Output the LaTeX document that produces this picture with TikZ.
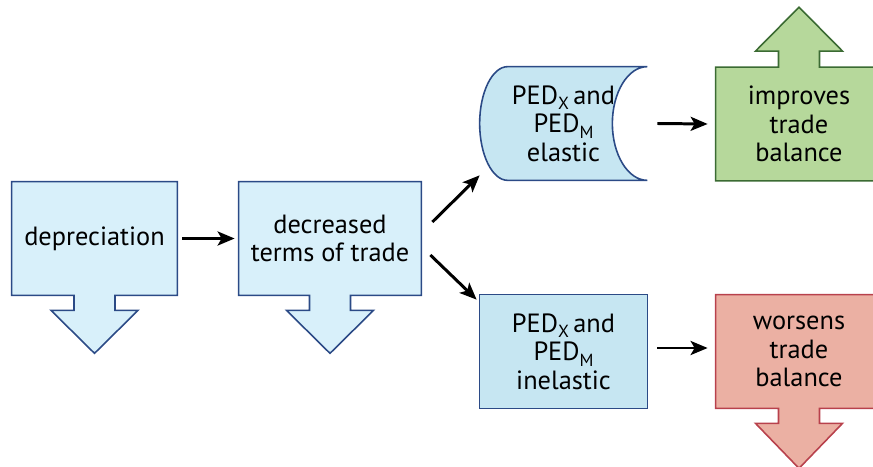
\documentclass[tikz,border=0pt]{standalone}
\usepackage{fontspec}
\setmainfont{PT Sans}
\usepackage{tikz}
\usetikzlibrary{calc, arrows.meta, backgrounds}

\definecolor{paleblue}{HTML}{D8F0FA}
\definecolor{midblue}{HTML}{C6E6F2}
\definecolor{blueline}{HTML}{2B4A86}
\definecolor{leafgreen}{HTML}{B6D89B}
\definecolor{greenline}{HTML}{3B6B33}
\definecolor{salmon}{HTML}{EBB0A3}
\definecolor{redline}{HTML}{B8414C}

\newcommand{\lowsub}[1]{\raisebox{-0.45ex}{\fontsize{10}{10}\selectfont #1}}

\begin{document}
\begin{tikzpicture}[
    txt/.style={align=center, font=\fontsize{15}{16.3}\selectfont,
        minimum height=2.26cm, inner sep=0pt},
    outline/.style={line width=0.9pt, line join=miter},
    link/.style={line width=1.7pt,
        -{Stealth[length=3.4mm, width=2.8mm, inset=0.8mm]}}
]
    \useasboundingbox (0,0) rectangle (17.46,9.32);

    \node[txt, minimum width=3.30cm] (dep) at (1.89, 4.55) {depreciation};
    \node[txt, minimum width=3.64cm] (dec) at (6.60, 4.55) {decreased\\terms of trade};
    \node[txt, minimum width=3.34cm] (el) at (11.27, 6.85)
        {PED\lowsub{X}\,and\\PED\lowsub{M}\\elastic};
    \node[txt, minimum width=3.34cm] (inel) at (11.27, 2.29)
        {PED\lowsub{X}\,and\\PED\lowsub{M}\\inelastic};
    \node[txt, minimum width=3.32cm] (imp) at (15.98, 6.84) {improves\\trade\\balance};
    \node[txt, minimum width=3.32cm] (wor) at (15.98, 2.29) {worsens\\trade\\balance};

    \begin{scope}[on background layer]
        % boxes with a down arrow
        \foreach \b in {dep, dec} {
            \draw[outline, draw=blueline, fill=paleblue]
                (\b.north west) -- (\b.north east) -- (\b.south east)
                -- ($(\b.south)+(0.41,0)$) -- ++(0,-0.3) -- ++(0.46,0)
                -- ($(\b.south)+(0,-1.16)$)
                -- ($(\b.south)+(-0.87,-0.3)$) -- ++(0.46,0) -- ++(0,0.3)
                -- (\b.south west) -- cycle;
        }
        \draw[outline, draw=redline, fill=salmon]
            (wor.north west) -- (wor.north east) -- (wor.south east)
            -- ($(wor.south)+(0.41,0)$) -- ++(0,-0.3) -- ++(0.46,0)
            -- ($(wor.south)+(0,-1.2)$)
            -- ($(wor.south)+(-0.87,-0.3)$) -- ++(0.46,0) -- ++(0,0.3)
            -- (wor.south west) -- cycle;

        % box with an up arrow
        \draw[outline, draw=greenline, fill=leafgreen]
            (imp.south west) -- (imp.north west)
            -- ($(imp.north)+(-0.41,0)$) -- ++(0,0.32) -- ++(-0.46,0)
            -- ($(imp.north)+(0,1.2)$)
            -- ($(imp.north)+(0.87,0.32)$) -- ++(-0.46,0) -- ++(0,-0.32)
            -- (imp.north east) -- (imp.south east) -- cycle;

        % stored data shape
        \draw[outline, draw=blueline, fill=midblue]
            ($(el.north west)+(0.56,0)$) -- (el.north east)
            .. controls ($(el.north east)+(-0.39,0)$) and ($(el.east)+(-0.70,0.62)$)
            .. ($(el.east)+(-0.70,0)$)
            .. controls ($(el.east)+(-0.70,-0.62)$) and ($(el.south east)+(-0.39,0)$)
            .. (el.south east) -- ($(el.south west)+(0.56,0)$)
            .. controls ($(el.south west)+(0.25,0)$) and ($(el.west)+(0,-0.62)$)
            .. (el.west)
            .. controls ($(el.west)+(0,0.62)$) and ($(el.north west)+(0.25,0)$)
            .. cycle;

        \draw[outline, draw=blueline, fill=midblue]
            (inel.north west) rectangle (inel.south east);
    \end{scope}

    \draw[link] ([xshift=0.1cm]dep.east) -- ([xshift=-0.08cm]dec.west);
    \draw[link] ([shift={(0.22,0.33)}]dec.east) -- ([yshift=0.1cm]el.south west);
    \draw[link] ([shift={(0.18,-0.33)}]dec.east) -- ([shift={(-0.06,-0.1)}]inel.north west);
    \draw[link] ([xshift=0.2cm]el.east) -- ([xshift=-0.16cm]imp.west);
    \draw[link] ([shift={(0.2,0.07)}]inel.east) -- ([shift={(-0.16,0.07)}]wor.west);
\end{tikzpicture}
\end{document}
